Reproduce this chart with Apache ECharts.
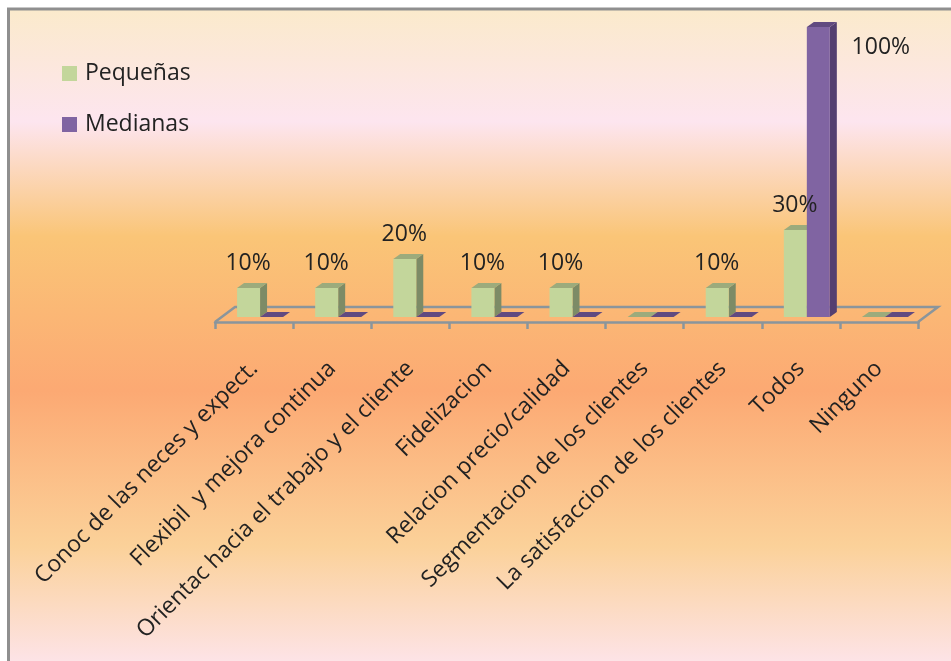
<!DOCTYPE html>
<html>
<head>
<meta charset="utf-8">
<style>html,body{margin:0;padding:0;background:#fff}#c{width:951px;height:661px}</style>
<script src="https://cdn.jsdelivr.net/npm/echarts@6/dist/echarts.min.js"></script>
</head>
<body>
<div id="c"></div>
<script>
const categories = ['Conoc de las neces y expect.', 'Flexibil  y mejora continua', 'Orientac hacia el trabajo y el cliente', 'Fidelizacion', 'Relacion precio/calidad', 'Segmentacion de los clientes', 'La satisfaccion de los clientes', 'Todos', 'Ninguno'];
const pequenas = [10, 10, 20, 10, 10, 0, 10, 30, 0];
const medianas = [0, 0, 0, 0, 0, 0, 0, 100, 0];

const FONT = '"Open Sans"';
const TEXT = '#222222';
const AXIS = '#8a959c';
const BAR_W = 23, DX = 7, DY = 5, LIFT = 5;

// Extruded column: front face, right side and top, standing slightly behind the front axis edge.
function column(front, side, top, offset) {
  return function (params, api) {
    const i = api.value(0);
    const v = api.value(1);
    const base = api.coord([i, 0]);
    const head = api.coord([i, v]);
    const x0 = base[0] + offset;
    const x1 = x0 + BAR_W;
    const yb = base[1] - LIFT;
    const yt = head[1] - LIFT;
    const kids = [];
    if (v > 0) {
      kids.push({ type: 'polygon', shape: { points: [[x1, yb], [x1 + DX, yb - DY], [x1 + DX, yt - DY], [x1, yt]] }, style: { fill: side } });
      kids.push({ type: 'rect', shape: { x: x0, y: yt, width: BAR_W, height: yb - yt }, style: { fill: front } });
    }
    kids.push({ type: 'polygon', shape: { points: [[x0, yt], [x1, yt], [x1 + DX, yt - DY], [x0 + DX, yt - DY]] }, style: { fill: top } });
    return { type: 'group', children: kids };
  };
}

// Far edge and end edges of the chart floor, derived from the category scale.
function floorEdges(params, api) {
  const a = api.coord([0, 0]);
  const w = api.size([1, 0])[0];
  const left = a[0] - w / 2;
  const right = left + w * categories.length;
  const y = a[1];
  return {
    type: 'polyline',
    shape: { points: [[left, y], [left + 20, y - 15], [right + 20, y - 15], [right, y]] },
    style: { stroke: AXIS, lineWidth: 2.5, fill: 'none' }
  };
}

const chart = echarts.init(document.getElementById('c'), null, { renderer: 'canvas' });
chart.setOption({
  animation: false,
  backgroundColor: '#fff',
  graphic: [{
    type: 'rect', z: -10, silent: true,
    shape: { x: 8.5, y: 9, width: 960, height: 670 },
    style: {
      stroke: '#8f8f8f', lineWidth: 3,
      fill: {
        type: 'linear', x: 0, y: 0, x2: 0, y2: 1,
        colorStops: [
          { offset: 0, color: '#fbeacb' },
          { offset: 0.17, color: '#fde5ef' },
          { offset: 0.34, color: '#fac577' },
          { offset: 0.57, color: '#fca973' },
          { offset: 0.80, color: '#fbd199' },
          { offset: 0.97, color: '#fde3e6' }
        ]
      }
    }
  }],
  legend: {
    left: 62, top: 62, orient: 'vertical', itemGap: 28, padding: 0,
    itemWidth: 15, itemHeight: 15, icon: 'rect',
    textStyle: { fontFamily: FONT, fontSize: 23, color: TEXT, padding: [0, 0, 0, 3] },
    data: ['Pequeñas', 'Medianas']
  },
  grid: { left: 215, top: 32, width: 703, height: 290 },
  xAxis: {
    type: 'category', data: categories, boundaryGap: true,
    axisLine: { show: true, lineStyle: { color: AXIS, width: 2.5 } },
    axisTick: { show: true, length: 7, lineStyle: { color: AXIS, width: 2.5 } },
    axisLabel: { rotate: 45, interval: 0, margin: 43, fontFamily: FONT, fontSize: 23, color: TEXT }
  },
  yAxis: { type: 'value', min: 0, max: 100, show: false, splitLine: { show: false } },
  series: [
    { type: 'custom', name: 'floor', renderItem: floorEdges, data: [[0, 0]], silent: true, z: 1, encode: { x: 0, y: 1 } },
    {
      type: 'custom', name: 'Pequeñas', z: 2,
      itemStyle: { color: '#c3d69b' },
      renderItem: column('#c3d69b', '#7d8b66', '#9cab7c', -17),
      data: pequenas.map((v, i) => [i, v]), encode: { x: 0, y: 1 }
    },
    {
      type: 'custom', name: 'Medianas', z: 3,
      itemStyle: { color: '#8064a2' },
      renderItem: column('#8064a2', '#543f70', '#614a80', 6),
      data: medianas.map((v, i) => [i, v]), encode: { x: 0, y: 1 }
    },
    {
      // Percentage labels above the columns that carry a value.
      type: 'custom', name: 'labels', z: 4, silent: true,
      renderItem: function (params, api) {
        const i = api.value(0);
        const v = api.value(1);
        const big = v >= 100;
        const p = api.coord([i, v]);
        return {
          type: 'text',
          x: p[0] + (big ? 80 : -6),
          y: big ? p[1] + 15 : p[1] - 30,
          style: { text: v + '%', fontFamily: FONT, fontSize: 23, fill: TEXT, align: 'center', verticalAlign: 'middle' }
        };
      },
      data: pequenas.map((v, i) => [i, v]).filter(d => d[1] > 0)
        .concat(medianas.map((v, i) => [i, v]).filter(d => d[1] > 0)),
      encode: { x: 0, y: 1 }
    }
  ]
});
</script>
</body>
</html>
